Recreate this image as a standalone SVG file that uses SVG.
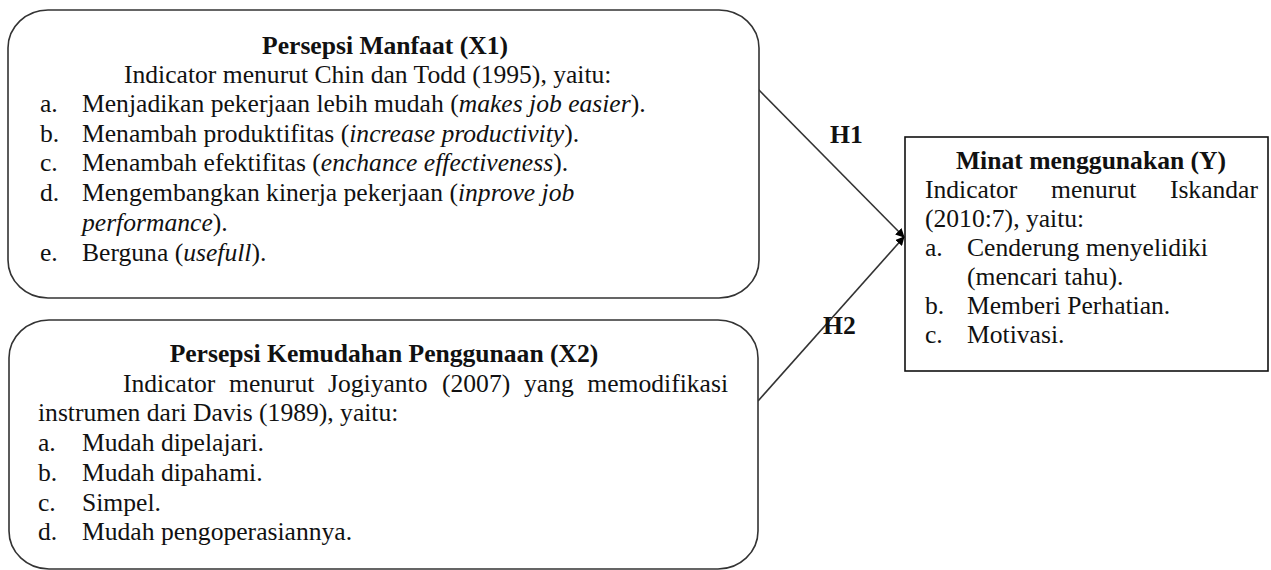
<svg xmlns="http://www.w3.org/2000/svg" width="1271" height="570" viewBox="0 0 1271 570">
<style>
.t{font-family:"Liberation Serif","Times New Roman",serif;font-size:25.6px;fill:#111}
.b{font-weight:bold}
.i{font-style:italic}
.m{text-anchor:middle}
.e{text-anchor:end}
.box{fill:#fff;stroke:#333;stroke-width:1.6}
.conn{stroke:#333;stroke-width:1.6;fill:none}
</style>
<defs>
<marker id="ah" viewBox="0 0 10 10" refX="9" refY="5" markerWidth="9" markerHeight="9" markerUnits="userSpaceOnUse" orient="auto">
<path d="M0,0 L10,5 L0,10 z" fill="#000"/>
</marker>
</defs>
<rect width="1271" height="570" fill="#fff"/>
<g id="connectors">
<line class="conn" x1="758" y1="89" x2="904" y2="237" marker-end="url(#ah)"/>
<line class="conn" x1="758" y1="401" x2="904" y2="237" marker-end="url(#ah)"/>
<text class="t b" x="830" y="143">H1</text>
<text class="t b" x="823" y="334">H2</text>
</g>
<g id="node-x1">
<rect class="box" x="8" y="10" width="751" height="288" rx="40" ry="38"/>
<text class="t b m" x="385" y="54">Persepsi Manfaat (X1)</text>
<text class="t" x="124" y="83">Indicator menurut Chin dan Todd (1995), yaitu:</text>
<text class="t" x="40" y="112">a.</text>
<text class="t" x="82" y="112">Menjadikan pekerjaan lebih mudah (<tspan class="i">makes job easier</tspan>).</text>
<text class="t" x="40" y="142">b.</text>
<text class="t" x="82" y="142">Menambah produktifitas (<tspan class="i">increase productivity</tspan>).</text>
<text class="t" x="40" y="171">c.</text>
<text class="t" x="82" y="171">Menambah efektifitas (<tspan class="i">enchance effectiveness</tspan>).</text>
<text class="t" x="40" y="201">d.</text>
<text class="t" x="82" y="201">Mengembangkan kinerja pekerjaan (<tspan class="i">inprove job</tspan></text>
<text class="t" x="82" y="231"><tspan class="i">performance</tspan>).</text>
<text class="t" x="40" y="261">e.</text>
<text class="t" x="82" y="261">Berguna (<tspan class="i">usefull</tspan>).</text>
</g>
<g id="node-x2">
<rect class="box" x="9" y="320" width="749" height="249" rx="40" ry="38"/>
<text class="t b m" x="384" y="362">Persepsi Kemudahan Penggunaan (X2)</text>
<text class="t" x="123" y="392">Indicator</text>
<text class="t" x="229" y="392">menurut</text>
<text class="t" x="328" y="392">Jogiyanto</text>
<text class="t" x="442" y="392">(2007)</text>
<text class="t" x="524" y="392">yang</text>
<text class="t e" x="728" y="392">memodifikasi</text>
<text class="t" x="38" y="421">instrumen dari Davis (1989), yaitu:</text>
<text class="t" x="38" y="451">a.</text>
<text class="t" x="82" y="451">Mudah dipelajari.</text>
<text class="t" x="38" y="481">b.</text>
<text class="t" x="82" y="481">Mudah dipahami.</text>
<text class="t" x="38" y="511">c.</text>
<text class="t" x="82" y="511">Simpel.</text>
<text class="t" x="38" y="540">d.</text>
<text class="t" x="82" y="540">Mudah pengoperasiannya.</text>
</g>
<g id="node-y">
<rect class="box" x="905" y="137" width="363" height="234" style="stroke:#111"/>
<text class="t b m" x="1091" y="169">Minat menggunakan (Y)</text>
<text class="t" x="925" y="198">Indicator</text>
<text class="t" x="1051" y="198">menurut</text>
<text class="t e" x="1258" y="198">Iskandar</text>
<text class="t" x="925" y="227">(2010:7), yaitu:</text>
<text class="t" x="925" y="256">a.</text>
<text class="t" x="967" y="256">Cenderung menyelidiki</text>
<text class="t" x="967" y="285">(mencari tahu).</text>
<text class="t" x="925" y="314">b.</text>
<text class="t" x="967" y="314">Memberi Perhatian.</text>
<text class="t" x="925" y="343">c.</text>
<text class="t" x="967" y="343">Motivasi.</text>
</g>
</svg>
